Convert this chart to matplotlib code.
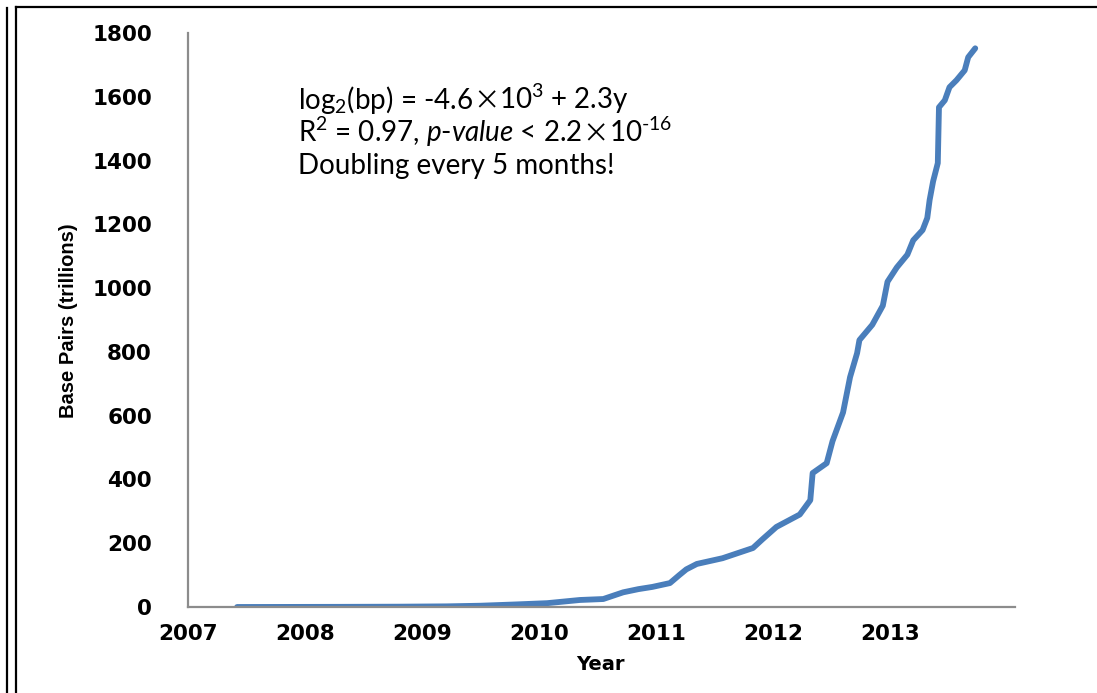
import matplotlib
matplotlib.use("Agg")
import matplotlib.pyplot as plt
from matplotlib.lines import Line2D

# cumulative base pairs (trillions)
years = [2007.42, 2007.80, 2008.30, 2008.80, 2009.21, 2009.50, 2009.80, 2010.07,
         2010.35, 2010.55, 2010.72, 2010.85, 2010.97, 2011.12, 2011.20, 2011.26,
         2011.35, 2011.57, 2011.83, 2011.91, 2012.03, 2012.23, 2012.32, 2012.34,
         2012.46, 2012.51, 2012.60, 2012.66, 2012.72, 2012.74, 2012.85, 2012.94,
         2012.98, 2013.06, 2013.15, 2013.20, 2013.28, 2013.32, 2013.34, 2013.37,
         2013.41, 2013.42, 2013.47, 2013.51, 2013.57, 2013.64, 2013.67, 2013.73]
bp = [0, 0.2, 0.5, 1, 2, 4, 8, 12,
      22, 25, 46, 56, 63, 75, 100, 118,
      135, 153, 185, 212, 251, 290, 335, 420,
      451, 520, 610, 721, 796, 837, 885, 945,
      1020, 1065, 1105, 1150, 1182, 1220, 1276, 1335,
      1392, 1567, 1589, 1630, 1652, 1683, 1724, 1752]

xticks = [2007, 2008, 2009, 2010, 2011, 2012, 2013]
yticks = [0, 200, 400, 600, 800, 1000, 1200, 1400, 1600, 1800]

W, H = 1097, 693
plt.rcParams["mathtext.fontset"] = "custom"
plt.rcParams["mathtext.rm"] = "Lato"
plt.rcParams["mathtext.it"] = "Lato:italic"

fig = plt.figure(figsize=(W / 100, H / 100), dpi=100)
ax = fig.add_axes([188 / W, (H - 607) / H, (1015 - 188) / W, (607 - 33) / H])

ax.plot(years, bp, color="#4a7ebb", lw=4.2, solid_capstyle="round", solid_joinstyle="round")

ax.set_xlim(2007, 2014.07)
ax.set_ylim(0, 1800)
ax.set_xticks(xticks)
ax.set_yticks(yticks)
tick_font = dict(family="DejaVu Sans", weight="bold", size=15.5)
ax.set_xticklabels([str(t) for t in xticks], fontdict=tick_font)
ax.set_yticklabels([str(t) for t in yticks], fontdict=tick_font)
ax.tick_params(axis="both", length=0)
ax.tick_params(axis="y", pad=26)
ax.tick_params(axis="x", pad=12)
for s in ("top", "right"):
    ax.spines[s].set_visible(False)
for s in ("left", "bottom"):
    ax.spines[s].set_color("#8c8c8c")
    ax.spines[s].set_linewidth(1.6)

fig.text(600 / W, (H - 664) / H, "Year", ha="center", va="center",
         family="DejaVu Sans", weight="bold", size=14)
fig.text(68 / W, (H - 321) / H, "Base Pairs (trillions)", ha="center", va="center",
         rotation=90, family="Liberation Sans", weight="bold", size=14.5)

# fit annotation, built piece by piece so the wide cross can use a CJK font
lines = [
    [r"log$_2$(bp) = -4.6", "\u00d7", r"10$^3$ + 2.3y"],
    [r"R$^2$ = 0.97, $p$-$value$ < 2.2", "\u00d7", r"10$^{\text{-}16}$"],
    ["Doubling every 5 months!"],
]
renderer = fig.canvas.get_renderer()
for pieces, base in zip(lines, [109, 142, 174]):
    x = 298
    for p in pieces:
        if p == "\u00d7":
            t = fig.text(x / W, (H - base) / H, p, ha="left", va="baseline",
                         family="Noto Sans CJK SC", size=19)
        else:
            t = fig.text(x / W, (H - base) / H, p, ha="left", va="baseline",
                         family="Lato", size=20)
        x = t.get_window_extent(renderer).x1

# double frame around the slide region
frame = dict(color="black", lw=1.6, transform=fig.transFigure)
fig.add_artist(Line2D([6.5 / W, 6.5 / W], [0, (H - 8) / H], **frame))
fig.add_artist(Line2D([16 / W, 16 / W], [0, (H - 7) / H], **frame))
fig.add_artist(Line2D([16 / W, 1], [(H - 7) / H, (H - 7) / H], **frame))

fig.savefig("out.png", dpi=100)
